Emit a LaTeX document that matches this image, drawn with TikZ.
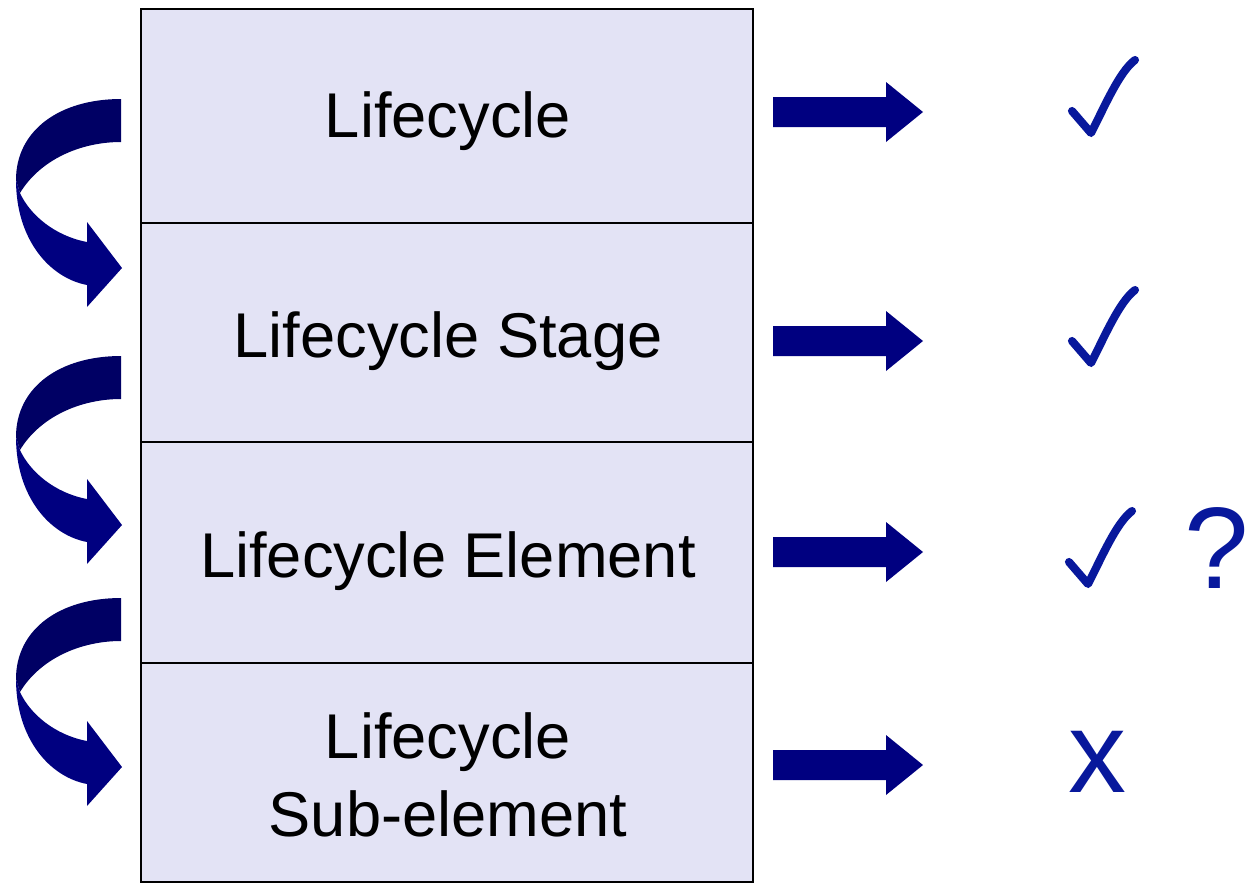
\documentclass[tikz,border=0pt]{standalone}
\usepackage{fontspec}
\setmainfont{Liberation Sans}
\definecolor{boxfill}{RGB}{227,227,245}
\definecolor{navyarrow}{RGB}{0,0,128}
\definecolor{darkarrow}{RGB}{0,0,100}
\definecolor{markblue}{RGB}{8,24,156}
\begin{document}
\begin{tikzpicture}[x=0.02cm,y=-0.02cm,
  rowbox/.style={draw=black, fill=boxfill, line width=1.13pt, minimum width=12.24cm, inner sep=0pt, outer sep=0pt, anchor=north west},
  lbl/.style={font=\fontsize{36}{43}\selectfont, anchor=base, text=black, inner sep=0pt},
  symb/.style={font=\fontsize{66}{70}\selectfont, anchor=base, text=markblue, inner sep=0pt},
  chkstroke/.style={draw=markblue, line width=4.6pt, line cap=round, line join=round},
  rarrowfill/.style={fill=navyarrow},
  darkpart/.style={fill=darkarrow},
  lightpart/.style={fill=navyarrow}]
\useasboundingbox (0,0) rectangle (1247,886);

% rows of the stack
\node[rowbox, minimum height=4.28cm] (r1) at (141,9) {};
\node[rowbox, minimum height=4.38cm] (r2) at (141,223) {};
\node[rowbox, minimum height=4.42cm] (r3) at (141,442) {};
\node[rowbox, minimum height=4.38cm] (r4) at (141,663) {};

% labels
\node[lbl] (t1) at (448,137) {Lifecycle};
\node[lbl] (t2) at (448,357) {Lifecycle Stage};
\node[lbl] (t3) at (448,577) {Lifecycle Element};
\node[lbl] (t4a) at (448,758) {Lifecycle};
\node[lbl] (t4b) at (448,836) {Sub-element};

% curved arrows on the left
\foreach \dy in {0,257,499}{
  \begin{scope}[shift={(0,\dy)}]
    \fill[darkpart] (121,99) .. controls (60,99) and (16,130) .. (16,180)
      -- (20,193) .. controls (40,160) and (80,142) .. (121,142) -- cycle;
    \fill[lightpart] (16,180) .. controls (16,240) and (50,278) .. (87,285)
      -- (87,307) -- (122,268) -- (87,222) -- (87,242)
      .. controls (55,236) and (30,215) .. (20,193) -- cycle;
  \end{scope}
}

% right arrows
\foreach \cy in {112,341,552,765}{
  \begin{scope}[shift={(0,\cy)}]
    \fill[rarrowfill] (773,-15) -- (886,-15) -- (886,-30) -- (923,0)
      -- (886,30) -- (886,15) -- (773,15) -- cycle;
  \end{scope}
}

% check marks
\foreach \dx/\dy in {0/0, 0/230, -3/451}{
  \begin{scope}[shift={(\dx,\dy)}]
    \draw[chkstroke] (1072,111) -- (1091,133)
      .. controls (1104,108) and (1119,72) .. (1135,60);
  \end{scope}
}

% question mark and cross
\node[symb] (q) at (1217,588) {?};
\node[symb] (xm) at (1097,792) {x};
\end{tikzpicture}
\end{document}
